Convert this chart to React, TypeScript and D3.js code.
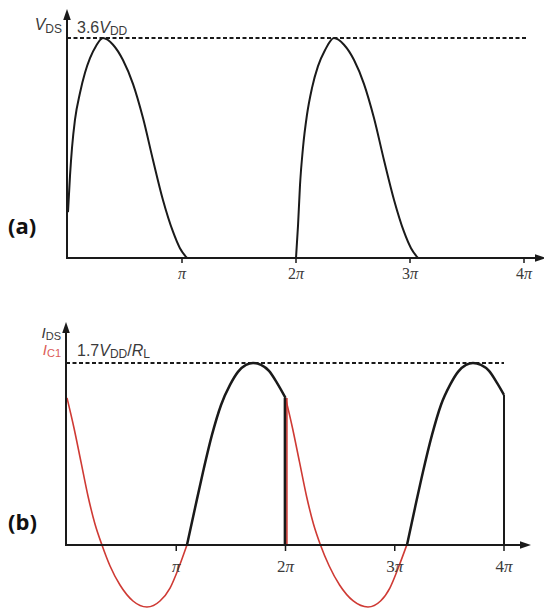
import React from 'react';
import * as d3 from 'd3';

const W = 544;
const H = 610;

// Phase axis: multiples of π and their labels
const tickMultiples = [1, 2, 3, 4];
const tickLabels = ['π', '2π', '3π', '4π'];

// (a) Drain–source voltage, in units of V_DD, against phase in units of π
const vdsPeak = 3.6;
const vdsPulse1: [number, number][] = [
  [0, 0.75], [0.018, 1.36], [0.035, 1.8], [0.061, 2.26], [0.105, 2.7],
  [0.149, 3.03], [0.193, 3.27], [0.246, 3.47], [0.307, 3.6], [0.395, 3.49],
  [0.482, 3.24], [0.57, 2.85], [0.658, 2.29], [0.746, 1.6], [0.833, 0.95],
  [0.921, 0.43], [0.982, 0.16], [1.044, 0],
];
const vdsPulse2: [number, number][] = [
  [2.0, 0], [2.018, 0.54], [2.035, 1.19], [2.061, 1.8], [2.096, 2.34],
  [2.14, 2.78], [2.193, 3.14], [2.254, 3.4], [2.333, 3.6], [2.421, 3.49],
  [2.509, 3.24], [2.596, 2.85], [2.684, 2.29], [2.772, 1.6], [2.86, 0.95],
  [2.947, 0.43], [3.009, 0.16], [3.07, 0],
];

// (b) Drain current I_DS and its fundamental I_C1, in units of V_DD/R_L
const idsPeak = 1.7;
const idsLobe1: [number, number][] = [
  [1.098, 0], [1.172, 0.346], [1.245, 0.682], [1.327, 1.028], [1.41, 1.308],
  [1.492, 1.495], [1.565, 1.617], [1.638, 1.682], [1.703, 1.7], [1.776, 1.682],
  [1.849, 1.626], [1.922, 1.514], [2.0, 1.374],
];
const idsLobe2: [number, number][] = [
  [3.112, 0], [3.185, 0.346], [3.258, 0.682], [3.341, 1.028], [3.423, 1.308],
  [3.506, 1.495], [3.579, 1.617], [3.652, 1.682], [3.716, 1.7], [3.789, 1.682],
  [3.863, 1.626], [3.936, 1.514], [4.0, 1.402],
];
const ic1Swing1: [number, number][] = [
  [0, 1.374], [0.064, 1.093], [0.128, 0.776], [0.192, 0.458], [0.256, 0.196],
  [0.32, 0], [0.394, -0.196], [0.485, -0.374], [0.604, -0.523], [0.732, -0.579],
  [0.851, -0.523], [0.943, -0.402], [1.025, -0.206], [1.098, 0],
];
const ic1Swing2: [number, number][] = [
  [2.0, 1.374], [2.064, 1.093], [2.128, 0.776], [2.192, 0.458], [2.256, 0.196],
  [2.32, 0], [2.4, -0.196], [2.495, -0.374], [2.62, -0.523], [2.755, -0.579],
  [2.87, -0.523], [2.955, -0.402], [3.035, -0.206], [3.11, 0],
];

const INK = '#1a1a1a';
const TEXT = '#3a3a3a';
const RED = '#cf3a34';
const RED_TEXT = '#dc5c58';
const SANS = "'Liberation Sans', Arial, sans-serif";
const SERIF = "'Liberation Serif', 'Times New Roman', serif";
const BOLD_SANS = "'Open Sans', 'Noto Sans', sans-serif";

function Arrow({ x, y, dir }: { x: number; y: number; dir: 'up' | 'right' }) {
  const pts = dir === 'up'
    ? [[x, y], [x - 3.8, y + 11], [x + 3.8, y + 11]]
    : [[x, y], [x - 11, y - 3.8], [x - 11, y + 3.8]];
  return <polygon points={pts.map((p) => p.join(',')).join(' ')} fill={INK} />;
}

function PiLabel({ x, y, label, size }: { x: number; y: number; label: string; size: number }) {
  const coef = label.slice(0, -1);
  return (
    <text x={x} y={y} textAnchor="middle" fontFamily={SERIF} fontSize={size} fill={TEXT}>
      {coef}
      <tspan fontStyle="italic">π</tspan>
    </text>
  );
}

export default function App() {
  // panel (a) scales
  const xA = d3.scaleLinear().domain([0, 4]).range([68, 524]);
  const yA = d3.scaleLinear().domain([0, vdsPeak]).range([258, 38]);
  // panel (b) scales
  const xB = d3.scaleLinear().domain([0, 4]).range([67, 504]);
  const yB = d3.scaleLinear().domain([0, idsPeak]).range([545, 363]);

  const lineA = d3.line<[number, number]>()
    .x((d) => xA(d[0])).y((d) => yA(d[1])).curve(d3.curveMonotoneX);
  const lineB = d3.line<[number, number]>()
    .x((d) => xB(d[0])).y((d) => yB(d[1])).curve(d3.curveMonotoneX);

  const axA = xA(0) - 1;
  const axB = xB(0) - 1;
  const baseA = yA(0);
  const baseB = yB(0);

  return (
    <svg width={W} height={H} viewBox={`0 0 ${W} ${H}`}
      style={{ position: 'absolute', left: 0, top: 0, background: '#fff' }}>
      {/* ---------- (a) V_DS ---------- */}
      <line x1={axA} y1={yA(vdsPeak)} x2={xA(4) + 3} y2={yA(vdsPeak)}
        stroke={INK} strokeWidth={1.8} strokeDasharray="4 2.5" />
      <path d={lineA(vdsPulse1) || ''} fill="none" stroke={INK} strokeWidth={2} />
      <path d={lineA(vdsPulse2) || ''} fill="none" stroke={INK} strokeWidth={2} />

      <line x1={axA} y1={baseA + 1} x2={axA} y2={18} stroke={INK} strokeWidth={2} />
      <Arrow x={axA} y={9} dir="up" />
      <line x1={axA - 1} y1={baseA} x2={W - 6} y2={baseA} stroke={INK} strokeWidth={2} />
      <Arrow x={W + 2} y={baseA} dir="right" />
      {tickMultiples.map((m, i) => (
        <g key={`ta${m}`}>
          <line x1={xA(m)} y1={baseA} x2={xA(m)} y2={baseA + 5} stroke={INK} strokeWidth={1.5} />
          <PiLabel x={xA(m)} y={baseA + 21} label={tickLabels[i]} size={16} />
        </g>
      ))}

      <text x={axA - 5} y={30} textAnchor="end" fontFamily={SANS} fontSize={16} fill={TEXT}>
        <tspan fontStyle="italic">V</tspan>
        <tspan fontSize={12} dy={3}>DS</tspan>
      </text>
      <text x={77} y={33} fontFamily={SANS} fontSize={16} fill={TEXT}>
        3.6<tspan fontStyle="italic">V</tspan>
        <tspan fontSize={12} dy={2}>DD</tspan>
      </text>
      <text x={8} y={234} fontFamily={BOLD_SANS} fontWeight={700} fontSize={22} fill="#111">(a)</text>

      {/* ---------- (b) I_DS and I_C1 ---------- */}
      <line x1={axB} y1={yB(idsPeak)} x2={xB(4)} y2={yB(idsPeak)}
        stroke={INK} strokeWidth={1.8} strokeDasharray="4 2.5" />

      <path d={lineB(ic1Swing1) || ''} fill="none" stroke={RED} strokeWidth={1.6} />
      <path d={lineB(ic1Swing2) || ''} fill="none" stroke={RED} strokeWidth={1.6} />
      <line x1={xB(2) + 1.4} y1={baseB} x2={xB(2) + 1.4} y2={yB(ic1Swing2[0][1])}
        stroke={RED} strokeWidth={1.6} />

      <path d={lineB(idsLobe1) || ''} fill="none" stroke={INK} strokeWidth={2.5} />
      <path d={lineB(idsLobe2) || ''} fill="none" stroke={INK} strokeWidth={2.5} />
      <line x1={xB(2) - 0.6} y1={baseB} x2={xB(2) - 0.6} y2={yB(idsLobe1[idsLobe1.length - 1][1])}
        stroke={INK} strokeWidth={2.5} />
      <line x1={xB(4)} y1={baseB} x2={xB(4)} y2={yB(idsLobe2[idsLobe2.length - 1][1])}
        stroke={INK} strokeWidth={2} />

      <line x1={axB} y1={baseB + 1} x2={axB} y2={332} stroke={INK} strokeWidth={2} />
      <Arrow x={axB} y={322} dir="up" />
      <line x1={axB - 1} y1={baseB} x2={522} y2={baseB} stroke={INK} strokeWidth={2} />
      <Arrow x={531} y={baseB} dir="right" />
      {tickMultiples.map((m, i) => (
        <g key={`tb${m}`}>
          <line x1={xB(m)} y1={baseB} x2={xB(m)} y2={baseB + 6} stroke={INK} strokeWidth={1.5} />
          <PiLabel x={xB(m)} y={baseB + 27} label={tickLabels[i]} size={17} />
        </g>
      ))}

      <text x={axB - 5} y={338} textAnchor="end" fontFamily={SANS} fontSize={15} fill={TEXT}>
        <tspan fontStyle="italic">I</tspan>
        <tspan fontSize={11} dy={2}>DS</tspan>
      </text>
      <text x={axB - 5} y={355} textAnchor="end" fontFamily={SANS} fontSize={15} fill={RED_TEXT}>
        <tspan fontStyle="italic">I</tspan>
        <tspan fontSize={11} dy={2}>C1</tspan>
      </text>
      <text x={77} y={356} fontFamily={SANS} fontSize={16} fill={TEXT}>
        1.7<tspan fontStyle="italic">V</tspan>
        <tspan fontSize={12} dy={2}>DD</tspan>
        <tspan dy={-2}>/</tspan>
        <tspan fontStyle="italic">R</tspan>
        <tspan fontSize={12} dy={2}>L</tspan>
      </text>
      <text x={8} y={530} fontFamily={BOLD_SANS} fontWeight={700} fontSize={22} fill="#111">(b)</text>
    </svg>
  );
}
